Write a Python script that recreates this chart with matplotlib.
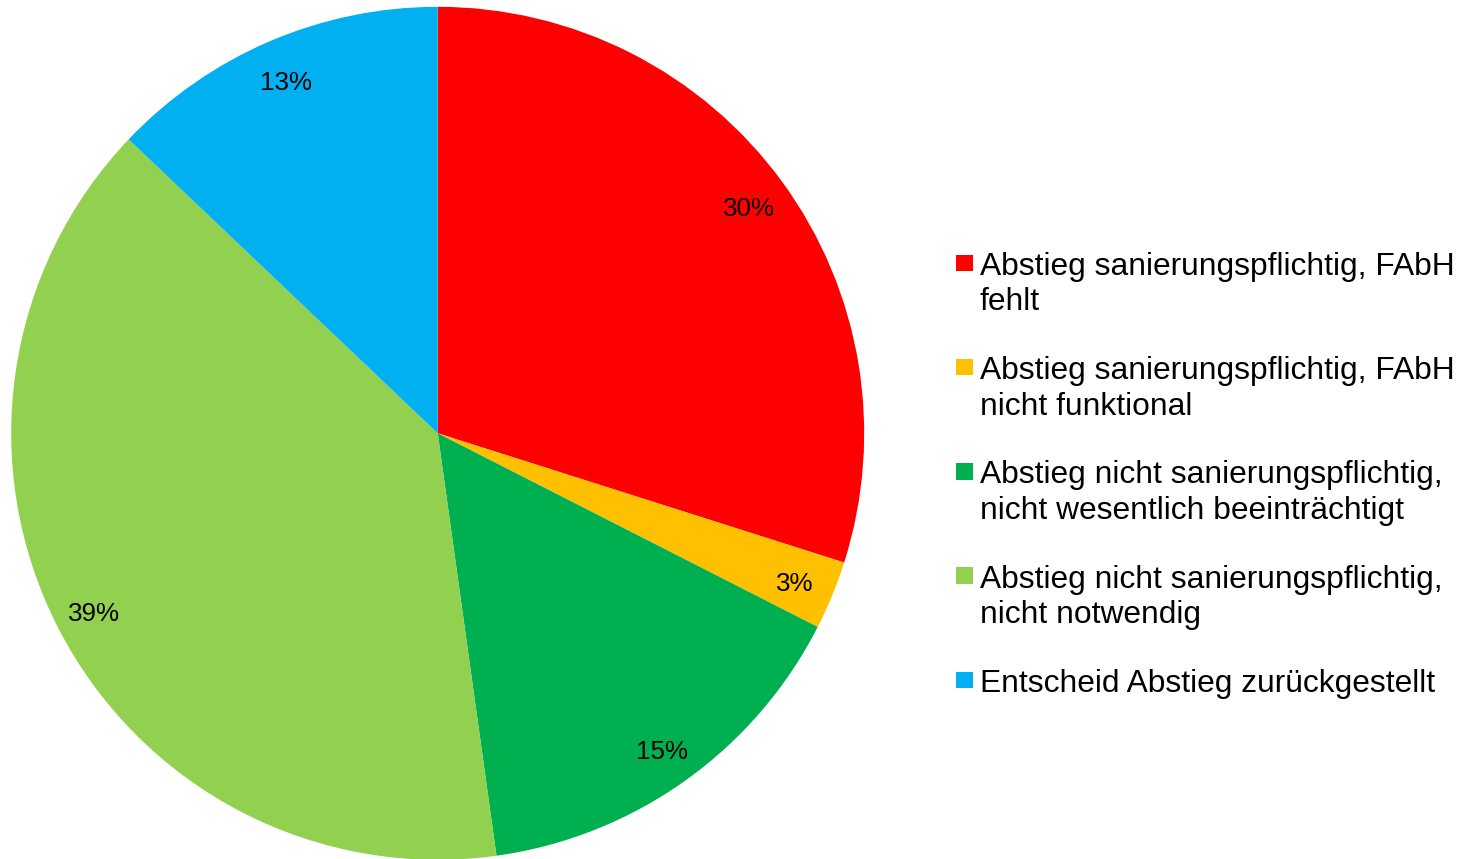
import matplotlib.pyplot as plt
from matplotlib.patches import Rectangle

# Anteile (gelesen aus der Grafik)
labels = [
    "Abstieg sanierungspflichtig, FAbH\nfehlt",
    "Abstieg sanierungspflichtig, FAbH\nnicht funktional",
    "Abstieg nicht sanierungspflichtig,\nnicht wesentlich beeinträchtigt",
    "Abstieg nicht sanierungspflichtig,\nnicht notwendig",
    "Entscheid Abstieg zurückgestellt",
]
shares = [29.9, 2.6, 15.3, 39.3, 12.9]
colors = ["#FF0000", "#FFC000", "#00B050", "#92D050", "#00B0F0"]

plt.rcParams['font.family'] = ['Liberation Sans', 'DejaVu Sans']

W, H = 1470, 859
fig = plt.figure(figsize=(W / 100, H / 100), dpi=100)

# pie area: center (437.7, 433.3) px, radius 426.5 px
cx, cy, r = 437.7, 433.3, 426.5
ax = fig.add_axes([(cx - r) / W, (H - cy - r) / H, 2 * r / W, 2 * r / H])
wedges, texts, autotexts = ax.pie(shares, colors=colors, startangle=90,
                                  counterclock=False, autopct='%.0f%%',
                                  pctdistance=0.905, radius=1,
                                  textprops={'fontsize': 18.7, 'color': 'black'})
# nudge the percent labels down a little
for t in autotexts:
    x, y = t.get_position()
    t.set_position((x, y - 4 / r))
ax.set_xlim(-1, 1)
ax.set_ylim(-1, 1)
ax.set_aspect('equal')
ax.axis('off')

# legend drawn by hand so the marker sits on the first text line
for i, (lab, col) in enumerate(zip(labels, colors)):
    base = 275 + i * 104.25
    for j, line in enumerate(lab.split('\n')):
        fig.text(980 / W, (H - base - j * 35.5) / H, line, fontsize=22.9,
                 va='baseline', ha='left')
    fig.add_artist(Rectangle((956 / W, (H - base + 4) / H), 16.5 / W, 16.5 / H,
                             transform=fig.transFigure, facecolor=col,
                             edgecolor='none'))

fig.savefig('out.png', dpi=100)
